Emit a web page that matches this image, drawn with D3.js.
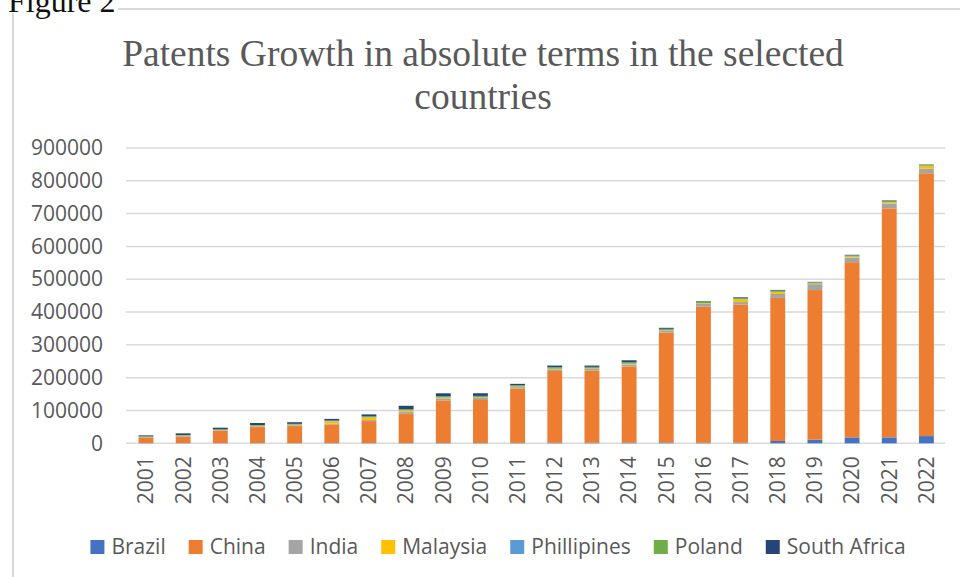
<!DOCTYPE html>
<html>
<head>
<meta charset="utf-8">
<script src="https://cdn.jsdelivr.net/npm/d3@7"></script>
<style>
  body { margin: 0; background: #fff; }
  svg { display: block; }
</style>
</head>
<body>
<div id="chart"></div>
<script>
const years = ["2001", "2002", "2003", "2004", "2005", "2006", "2007", "2008", "2009", "2010", "2011",
  "2012", "2013", "2014", "2015", "2016", "2017", "2018", "2019", "2020", "2021", "2022"]
const countries = ["Brazil", "China", "India", "Malaysia", "Phillipines", "Poland", "South Africa"]

const brazil = [500, 500, 500, 500, 500, 600, 700, 800, 900, 1000, 1200, 1500, 1500, 2000, 2500, 1500, 1500, 7000, 11000, 18000, 18000, 22000]
const china = [17000, 20000, 37000, 49000, 52000, 57000, 67000, 89000, 130000, 131000, 166000, 219000, 220000, 232000, 335000, 415000, 421000, 436000, 456000, 534000, 698000, 801000]
const india = [1500, 2000, 2000, 2500, 2500, 3000, 3000, 6000, 6000, 6000, 4000, 5000, 5000, 6000, 5000, 8000, 8000, 12000, 18000, 14000, 14000, 14000]
const malaysia = [500, 500, 800, 1000, 1500, 6000, 8000, 4000, 2000, 2000, 1500, 1500, 1500, 2000, 1500, 2000, 8000, 6000, 2000, 3000, 4000, 8000]
const phillipines = [200, 300, 300, 300, 300, 300, 400, 500, 500, 500, 500, 500, 500, 500, 500, 500, 500, 500, 500, 500, 500, 1000]
const poland = [1500, 2000, 2000, 2500, 2500, 2500, 3000, 4000, 4000, 4000, 4000, 4500, 4500, 4500, 4500, 5000, 4000, 4000, 3500, 3500, 4000, 3000]
const southAfrica = [3000, 5000, 5000, 6000, 5000, 5000, 6000, 10000, 9000, 8000, 4000, 5000, 4000, 6000, 3000, 1500, 2000, 2000, 1000, 1500, 1500, 1000]

const yTicks = [0, 100000, 200000, 300000, 400000, 500000, 600000, 700000, 800000, 900000]
const colors = ["#4472C4", "#ED7D31", "#A5A5A5", "#FFC000", "#5B9BD5", "#70AD47", "#264478"]

const seriesValues = [brazil, china, india, malaysia, phillipines, poland, southAfrica]
const table = years.map((year, i) => {
  const row = { year: year }
  countries.forEach((c, k) => { row[c] = seriesValues[k][i] })
  return row
})

const width = 960
const height = 577
const font = "'Open Sans', sans-serif"
const textColor = "#595959"
const gridColor = "#d9d9d9"

const svg = d3.select("#chart").append("svg")
  .attr("width", width)
  .attr("height", height)

// document frame around the chart
svg.append("line")
  .attr("x1", 13).attr("x2", 13).attr("y1", 13).attr("y2", height)
  .attr("stroke", gridColor).attr("stroke-width", 2)
svg.append("line")
  .attr("x1", 118).attr("x2", width).attr("y1", 9).attr("y2", 9)
  .attr("stroke", gridColor).attr("stroke-width", 2)

svg.append("text")
  .attr("x", 8).attr("y", 12)
  .attr("font-family", "'Liberation Serif', 'Times New Roman', serif")
  .attr("font-size", 32)
  .attr("fill", "#111")
  .text("Figure 2")

const title = svg.append("text")
  .attr("text-anchor", "middle")
  .attr("font-family", "'Liberation Serif', 'Times New Roman', serif")
  .attr("font-size", 37.5)
  .attr("fill", textColor)
title.append("tspan").attr("x", 483).attr("y", 66).text("Patents Growth in absolute terms in the selected")
title.append("tspan").attr("x", 483).attr("y", 109).text("countries")

const x = d3.scaleBand()
  .domain(years)
  .range([127.4, 945])
  .paddingInner(0.6)
  .paddingOuter(0.3)

const y = d3.scaleLinear()
  .domain([0, 900000])
  .range([443.3, 148])

svg.append("g")
  .selectAll("line")
  .data(yTicks)
  .join("line")
  .attr("x1", 126).attr("x2", 945)
  .attr("y1", d => y(d)).attr("y2", d => y(d))
  .attr("stroke", gridColor)
  .attr("stroke-width", 1.5)

const stack = d3.stack().keys(countries)
const layers = stack(table)

svg.append("g")
  .selectAll("g")
  .data(layers)
  .join("g")
  .attr("fill", (d, i) => colors[i])
  .selectAll("rect")
  .data(d => d)
  .join("rect")
  .attr("x", d => x(d.data.year))
  .attr("width", x.bandwidth())
  .attr("y", d => y(d[1]))
  .attr("height", d => Math.max(0, y(d[0]) - y(d[1])))

const yAxis = svg.append("g")
  .attr("transform", "translate(127,0)")
  .call(d3.axisLeft(y).tickValues(yTicks).tickSize(0).tickPadding(24).tickFormat(d3.format("d")))
yAxis.select(".domain").remove()
yAxis.selectAll("text")
  .attr("font-family", font)
  .attr("font-size", 21)
  .attr("fill", textColor)

const xAxis = svg.append("g")
  .attr("transform", "translate(0,443.3)")
  .call(d3.axisBottom(x).tickSize(0))
xAxis.select(".domain").remove()
xAxis.selectAll("text")
  .attr("font-family", font)
  .attr("font-size", 21)
  .attr("fill", textColor)
  .attr("text-anchor", "end")
  .attr("transform", "rotate(-90)")
  .attr("x", -13)
  .attr("y", 0)
  .attr("dy", "0.35em")

// legend, centred under the plot
const legend = svg.append("g")
const items = legend.selectAll("g")
  .data(countries)
  .join("g")
items.append("rect")
  .attr("width", 14).attr("height", 14)
  .attr("y", -7)
  .attr("fill", (d, i) => colors[i])
items.append("text")
  .attr("x", 21)
  .attr("dy", "0.35em")
  .attr("font-family", font)
  .attr("font-size", 21)
  .attr("fill", textColor)
  .text(d => d)

let pos = 0
items.each(function() {
  d3.select(this).attr("transform", "translate(" + pos + ",0)")
  const w = this.querySelector("text").getComputedTextLength()
  pos += 21 + w + 23
})
const total = pos - 23
legend.attr("transform", "translate(" + (498 - total / 2) + ",547)")
</script>
</body>
</html>
